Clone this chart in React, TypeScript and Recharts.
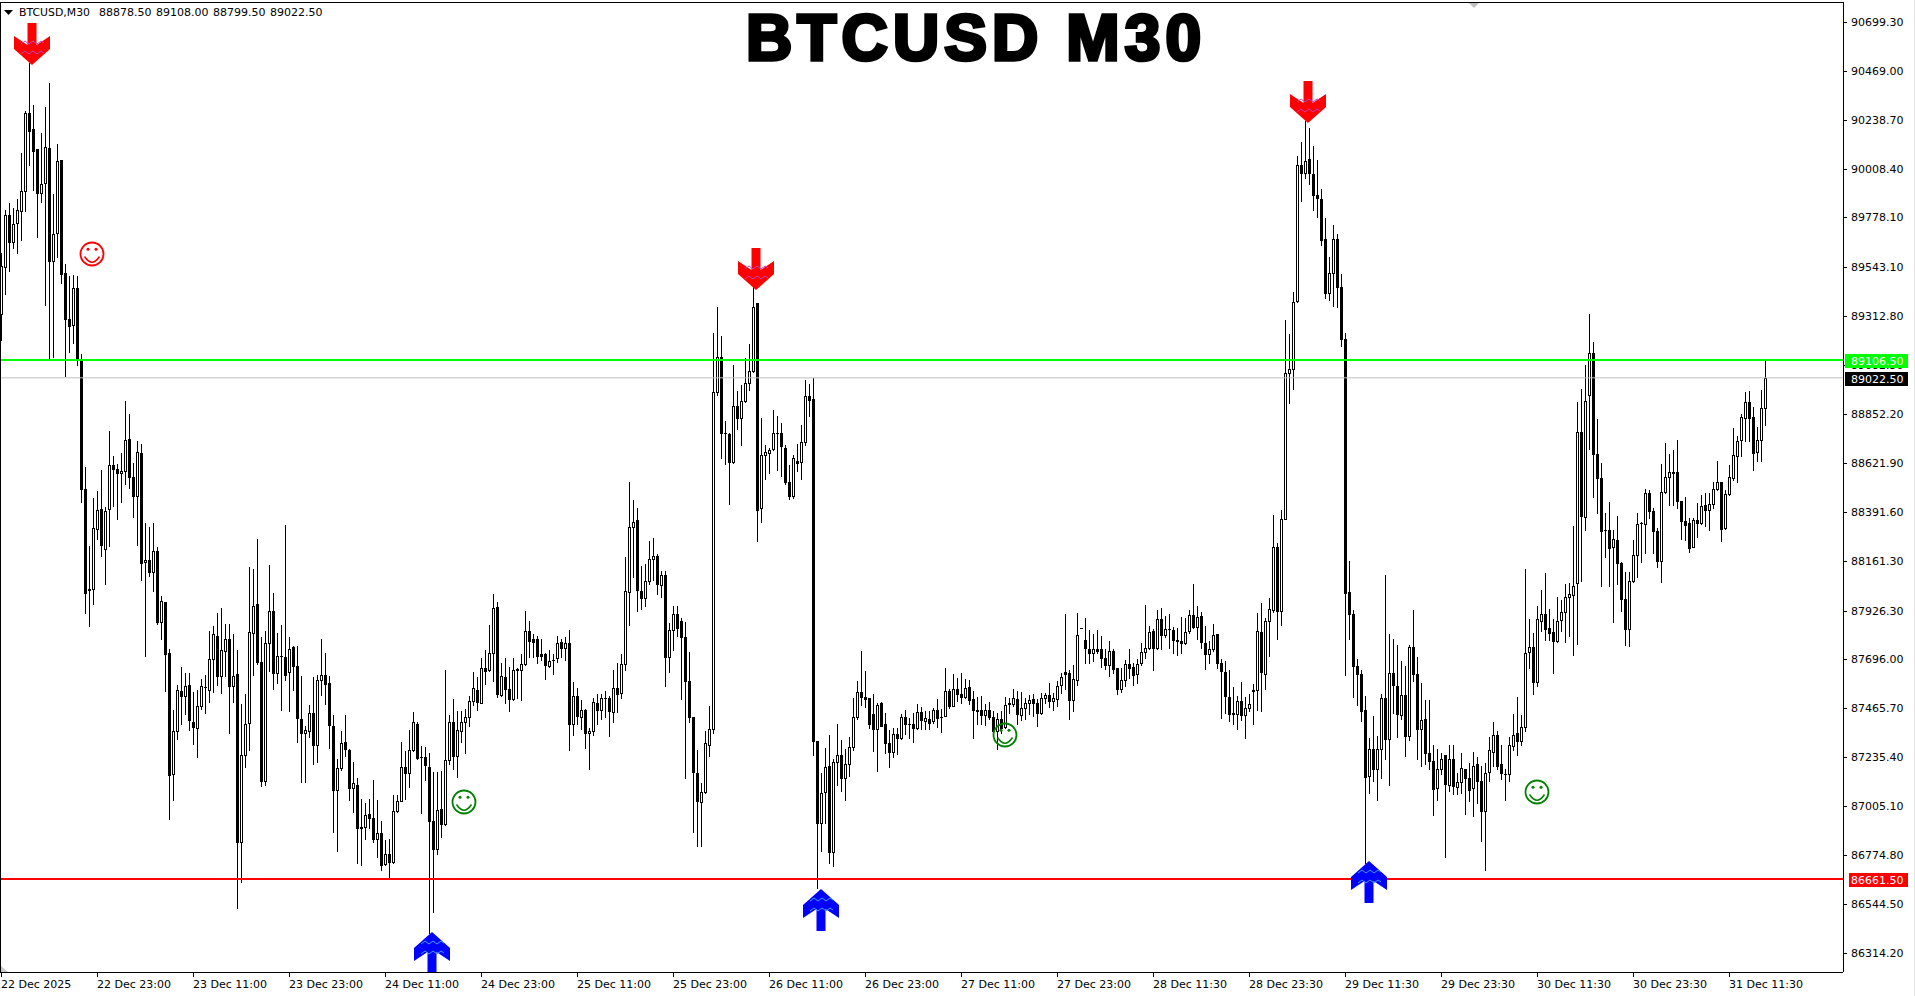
import React from 'react';
import { ComposedChart, Bar, XAxis, YAxis, ReferenceLine, Scatter, Customized } from 'recharts';

const opens = [
89321,89544,89792,89662,89753,89808,89902,90271,90193,90099,
89894,89941,90106,89572,89706,90051,89518,89301,89271,89447,
89110,88500,88025,88029,88312,88405,88217,88405,88613,88593,
88572,88584,88733,88557,88466,88670,88154,88165,88106,88205,
87873,87968,87725,87155,87359,87545,87524,87574,87402,87372,
87476,87565,87551,87698,87807,87617,87735,87793,87569,87626,
86834,87246,87395,87820,87957,87685,87121,87771,87925,87631,
87712,87708,87635,87753,87667,87417,87348,87359,87443,87295,
87601,87624,87583,87384,87082,87184,87306,87270,87091,87105,
86906,86906,86969,86951,86852,86879,86732,86781,86740,86981,
87028,87187,87160,87270,87393,87237,87237,87189,86937,86802,
86992,86919,87223,87399,87241,87359,87399,87426,87501,87554,
87493,87655,87647,87725,87943,87528,87612,87556,87509,87647,
87647,87675,87830,87790,87790,87721,87721,87667,87691,87705,
87776,87750,87774,87394,87524,87423,87457,87350,87360,87493,
87459,87513,87516,87449,87562,87536,87675,88012,88320,88355,
88018,87985,88064,88167,88183,88048,88092,87707,87834,87909,
87879,87800,87592,87427,87162,87025,87072,87294,87368,88956,
89119,88762,88758,88627,88891,88835,88915,89000,89053,89377,
88409,88659,88669,88686,88762,88762,88692,88534,88464,88633,
88627,88722,88936,88924,87314,86927,87072,87195,86789,87211,
87245,87136,87205,87285,87423,87542,87518,87513,87439,87370,
87489,87390,87304,87259,87344,87327,87424,87391,87393,87374,
87449,87405,87416,87405,87456,87424,87429,87547,87476,87555,
87534,87520,87567,87508,87460,87459,87434,87459,87427,87358,
87416,87379,87493,87484,87511,87434,87468,87492,87511,87492,
87442,87512,87528,87500,87511,87575,87636,87633,87503,87599,
87845,87787,87746,87727,87746,87743,87701,87668,87738,87657,
87558,87599,87676,87661,87625,87679,87732,87749,87831,87748,
87887,87811,87839,87836,87789,87784,87773,87828,87906,87848,
87900,87774,87723,87743,87814,87679,87638,87520,87445,87437,
87500,87434,87468,87551,87551,87826,87628,87876,87931,88227,
87924,88359,89047,89066,89383,90026,89989,90052,89984,89885,
89866,89675,89423,89518,89675,89452,89207,88014,87912,87664,
87625,87456,87146,87272,87181,87272,87512,87322,87633,87573,
87434,87529,87335,87755,87628,87369,87416,87256,87219,87090,
87181,87247,87104,87228,87096,87120,87181,87138,87091,87201,
87123,86981,87165,87259,87341,87201,87157,87157,87288,87347,
87311,87379,87730,87755,87589,87877,87910,87845,87823,87782,
87881,87921,87991,88000,88054,88768,88368,88941,89140,88662,
88552,88305,88307,88225,88260,88148,87982,87838,88065,88189,
88337,88334,88481,88397,88303,88159,88485,88555,88581,88577,
88440,88350,88337,88225,88355,88339,88422,88400,88427,88498,
88534,88314,88476,88550,88656,88730,88833,88911,88837,88671,
88730,88878.5];

const closes = [
89549,89792,89662,89745,89811,89905,90271,90185,90091,89894,
89937,90111,89572,89701,90045,89510,89301,89266,89447,89113,
88499,88008,88027,88316,88402,88235,88396,88613,88593,88572,
88584,88731,88554,88466,88674,88151,88163,88106,88208,87870,
87972,87721,87151,87359,87554,87524,87569,87411,87377,87476,
87569,87567,87700,87814,87617,87739,87793,87569,87619,86834,
87246,87390,87823,87948,87682,87121,87771,87925,87631,87712,
87710,87623,87746,87667,87420,87348,87363,87443,87295,87601,
87623,87578,87386,87082,87184,87304,87273,87091,87112,86901,
86901,86965,86951,86852,86879,86727,86781,86740,86983,87028,
87187,87160,87270,87399,87232,87237,87198,86937,86802,86987,
86919,87220,87399,87241,87363,87402,87426,87501,87560,87497,
87655,87643,87727,87939,87532,87618,87556,87509,87647,87651,
87675,87830,87784,87780,87711,87711,87671,87687,87691,87774,
87750,87774,87394,87524,87429,87457,87348,87360,87497,87459,
87513,87513,87453,87562,87532,87675,88018,88320,88345,88024,
87983,88064,88171,88181,88052,88094,87707,87834,87909,87846,
87800,87592,87423,87166,87031,87072,87300,87368,88956,89119,
88762,88762,88627,88891,88831,88915,89000,89053,89357,88401,
88659,88673,88683,88762,88762,88702,88530,88464,88643,88623,
88722,88936,88920,87314,86927,87066,87189,86789,87211,87245,
87136,87205,87285,87427,87542,87518,87509,87390,87370,87483,
87384,87304,87259,87344,87324,87424,87390,87391,87374,87449,
87410,87421,87398,87456,87421,87424,87547,87476,87555,87531,
87518,87562,87504,87457,87452,87434,87459,87424,87358,87413,
87374,87482,87484,87515,87437,87468,87492,87506,87492,87442,
87512,87528,87500,87512,87570,87614,87625,87504,87602,87809,
87845,87748,87724,87746,87734,87701,87668,87738,87653,87558,
87597,87676,87657,87622,87676,87732,87749,87826,87748,87887,
87811,87840,87839,87787,87782,87773,87826,87906,87848,87897,
87777,87723,87743,87810,87680,87641,87523,87437,87437,87500,
87434,87468,87486,87547,87831,87636,87876,87935,88227,87924,
88358,89047,89066,89380,90026,89989,90044,89989,89884,89868,
89672,89420,89518,89675,89450,89204,88010,87911,87664,87627,
87452,87143,87275,87178,87275,87515,87322,87633,87575,87438,
87529,87335,87755,87627,87369,87412,87253,87217,87087,87181,
87228,87110,87228,87102,87120,87186,87137,87080,87193,87123,
86981,87162,87269,87341,87193,87162,87157,87294,87341,87311,
87379,87727,87755,87589,87887,87910,87841,87820,87784,87877,
87921,87991,88005,88040,88768,88371,88914,89140,88665,88550,
88301,88305,88220,88263,88148,87980,87838,88067,88189,88335,
88337,88481,88397,88301,88159,88485,88555,88581,88573,88442,
88346,88328,88220,88353,88339,88420,88400,88427,88500,88534,
88310,88476,88555,88660,88727,88837,88911,88833,88667,88730,
88882,89022.5];

const highs = [
89609,89813,89844,89824,89863,90083,90279,90507,90306,90099,
90177,90299,90412,89887,90122,90051,89557,89502,89505,89502,
89133,88604,88231,88455,88491,88590,88416,88774,88656,88617,
88670,88912,88853,88620,88724,88711,88339,88321,88339,88226,
87993,87968,87743,87456,87574,87658,87631,87631,87542,87551,
87605,87623,87829,87852,87913,87936,87861,87864,87814,87739,
87488,87533,88133,88120,88264,87802,87829,88142,88008,87820,
87859,88330,87802,87757,87757,87619,87384,87483,87614,87623,
87793,87725,87619,87434,87228,87359,87434,87273,87211,87139,
87040,87019,87037,87126,87032,86933,86843,86852,87058,87058,
87309,87264,87363,87449,87399,87288,87282,87255,87166,87166,
87169,87644,87434,87511,87452,87452,87461,87524,87635,87614,
87705,87741,87856,88004,87965,87677,87701,87661,87701,87655,
87721,87925,87877,87814,87804,87790,87727,87741,87721,87804,
87790,87800,87834,87588,87562,87503,87463,87374,87512,87532,
87532,87548,87522,87647,87681,87721,88177,88534,88445,88409,
88137,88147,88256,88266,88193,88111,88113,87866,87949,87949,
87893,87873,87731,87427,87271,87116,87358,87477,89232,89357,
89218,88817,88762,89083,88960,88990,89115,89182,89452,89377,
88831,88708,88692,88871,88845,88811,88706,88613,88659,88712,
88801,89014,88994,89024,87314,87162,87281,87340,87225,87394,
87318,87275,87330,87512,87592,87737,87641,87516,87532,87493,
87497,87443,87364,87374,87374,87440,87456,87421,87445,87484,
87471,87453,87453,87468,87508,87464,87657,87555,87625,87610,
87633,87602,87597,87547,87519,87526,87484,87495,87453,87445,
87453,87520,87515,87555,87547,87542,87515,87528,87534,87511,
87539,87539,87586,87539,87594,87630,87908,87646,87672,87916,
87846,87889,87834,87814,87834,87806,87743,87784,87746,87657,
87657,87693,87746,87680,87696,87771,87950,87853,87837,87931,
87939,87900,87908,87848,87845,87897,87892,87931,88049,87947,
87919,87853,87782,87865,87817,87696,87688,87646,87567,87526,
87591,87520,87531,87578,87916,87963,87892,87983,88374,88245,
88402,89295,89227,89428,90067,90135,90232,90201,90117,90047,
89913,89777,89593,89741,89698,89510,89232,88159,87927,87696,
87644,87526,87324,87429,87335,87531,88096,87814,87793,87766,
87688,87664,87766,87927,87708,87586,87507,87503,87295,87272,
87256,87248,87294,87294,87159,87256,87182,87209,87261,87237,
87193,87206,87332,87402,87358,87295,87178,87332,87441,87520,
87432,88120,87887,87821,87947,88022,88101,87932,87886,87991,
87977,88049,88054,88323,88911,88968,89082,89323,89190,88829,
88622,88388,88436,88305,88370,88155,88106,88106,88260,88388,
88343,88500,88496,88409,88316,88617,88716,88662,88683,88730,
88440,88463,88364,88364,88433,88472,88478,88481,88530,88629,
88534,88496,88613,88784,88747,88851,88954,88959,88887,88792,
88966,89108];

const lows = [
89200,89416,89525,89635,89609,89671,89808,90025,89907,89686,
89850,89365,89113,89120,89593,89470,89031,89144,89185,89083,
88437,87914,87855,87959,88264,88183,88049,88231,88420,88357,
88437,88522,88504,88366,88235,88070,87712,88088,88017,87864,
87793,87547,86942,87032,87322,87390,87440,87363,87297,87234,
87461,87443,87494,87542,87574,87538,87617,87348,87497,86525,
86646,87189,87270,87623,87676,87100,87103,87640,87556,87583,
87458,87599,87452,87551,87309,87117,87117,87331,87202,87211,
87528,87488,87277,86883,86793,87175,87241,87032,86978,86736,
86727,86849,86901,86834,86763,86704,86727,86668,86736,86978,
87028,87040,87094,87264,87228,86972,87130,86405,86507,86777,
86861,86915,87205,87180,87144,87309,87255,87384,87479,87456,
87489,87582,87641,87592,87518,87522,87493,87453,87503,87513,
87503,87671,87707,87707,87681,87691,87602,87661,87628,87685,
87707,87691,87271,87338,87390,87370,87279,87179,87340,87390,
87413,87423,87334,87403,87449,87513,87647,87860,88082,87923,
87933,87949,88052,88068,88004,87988,87572,87636,87741,87806,
87509,87136,87403,86882,86815,86815,87066,87239,87348,88940,
88643,88617,88429,88623,88782,88708,88911,88964,89049,88256,
88345,88548,88573,88683,88587,88558,88524,88451,88458,88583,
88544,88706,88845,87245,86617,86793,86927,86739,86725,87106,
87076,87036,87146,87271,87413,87483,87473,87374,87265,87169,
87384,87255,87189,87235,87251,87322,87343,87327,87307,87369,
87369,87369,87369,87398,87377,87354,87429,87468,87476,87500,
87492,87515,87484,87327,87394,87394,87385,87413,87351,87275,
87351,87374,87445,87476,87390,87410,87416,87440,87429,87382,
87437,87492,87473,87460,87476,87539,87555,87416,87453,87575,
87845,87680,87677,87688,87727,87661,87649,87617,87633,87531,
87542,87570,87609,87575,87583,87672,87701,87743,87646,87743,
87743,87803,87751,87724,87715,87724,87767,87821,87845,87790,
87751,87652,87680,87735,87657,87420,87445,87405,87390,87369,
87410,87327,87453,87390,87460,87453,87555,87712,87920,87790,
87856,88359,88905,88968,89380,89855,89962,89938,89813,89780,
89646,89397,89389,89361,89356,89172,87622,87793,87518,87481,
87405,86738,87065,87123,87033,87135,87225,87104,87445,87332,
87413,87240,87316,87594,87225,87193,87201,87178,86963,87033,
87154,86765,87076,87060,87060,87068,86966,87029,86958,87021,
86840,86704,87123,87193,87178,87131,87033,87123,87269,87248,
87292,87358,87657,87531,87570,87832,87787,87787,87634,87778,
87832,87778,87805,87719,87769,88067,88305,88685,88463,88386,
88040,88180,88040,87872,88049,87926,87764,87757,88063,88085,
88157,88198,88364,88197,88133,88063,88478,88422,88422,88409,
88261,88260,88202,88224,88271,88334,88325,88305,88409,88496,
88256,88310,88472,88539,88530,88653,88725,88725,88586,88629,
88629,88799.5];

const xTickIndexes = [0,24,48,72,96,120,144,168,192,216,240,264,288,312,336,360,384,408,432];
const xTickLabels = ['22 Dec 2025','22 Dec 23:00','23 Dec 11:00','23 Dec 23:00','24 Dec 11:00','24 Dec 23:00','25 Dec 11:00','25 Dec 23:00','26 Dec 11:00','26 Dec 23:00','27 Dec 11:00','27 Dec 23:00','28 Dec 11:30','28 Dec 23:30','29 Dec 11:30','29 Dec 23:30','30 Dec 11:30','30 Dec 23:30','31 Dec 11:30'];
const yTickValues = [90699.3,90469,90238.7,90008.4,89778.1,89543.1,89312.8,89082.5,88852.2,88621.9,88391.6,88161.3,87926.3,87696,87465.7,87235.4,87005.1,86774.8,86544.5,86314.2];
const resistance = 89106.5;
const support = 86661.5;
const lastClose = 89022.5;

const sellArrows = [{ i: 7.6, price: 90496 }, { i: 188.6, price: 89436 }, { i: 326.6, price: 90223 }];
const buyArrows = [{ i: 107.6, price: 86412 }, { i: 204.9, price: 86614 }, { i: 341.9, price: 86744 }];
const redSmileys = [{ i: 22.6, price: 89606 }];
const greenSmileys = [{ i: 115.6, price: 87024 }, { i: 250.9, price: 87340 }, { i: 383.9, price: 87071 }];

const FONT = '"DejaVu Sans", sans-serif';
const candles = opens.map((open, i) => ({ i, open, high: highs[i], low: lows[i], close: closes[i] }));
if (new Set([opens.length, closes.length, highs.length, lows.length]).size !== 1) {
  throw new Error('length mismatch ' + [opens.length, closes.length, highs.length, lows.length].join(','));
}

function Candle(props: any) {
  const { x, width, y, height, payload } = props;
  const h = Math.abs(height);
  const range = payload.high - payload.low || 1;
  const yOf = (v: number) => Math.round(y + ((payload.high - v) / range) * h);
  const cx = Math.floor(x + width / 2);
  const top = yOf(Math.max(payload.open, payload.close));
  const bot = yOf(Math.min(payload.open, payload.close));
  const wt = yOf(payload.high);
  const wb = yOf(payload.low);
  const up = payload.close >= payload.open;
  const bh = Math.max(bot - top + 1, 1);
  return (
    <g shapeRendering="crispEdges">
      <rect x={cx} y={wt} width={1} height={Math.max(wb - wt + 1, 1)} fill="#000" />
      <rect x={cx - 1} y={top} width={3} height={bh} fill="#000" />
      {up && bh > 2 ? <rect x={cx} y={top + 1} width={1} height={bh - 2} fill="#fff" /> : null}
    </g>
  );
}

function XTick(props: any) {
  const { x, payload } = props;
  const label = xTickLabels[xTickIndexes.indexOf(payload.value)];
  const px = Math.floor(x);
  return (
    <g>
      <rect x={px} y={973} width={1} height={4} fill="#000" shapeRendering="crispEdges" />
      <text x={px} y={988} fontFamily={FONT} fontSize={11} fill="#000">{label}</text>
    </g>
  );
}

function YTick(props: any) {
  const { y, payload } = props;
  const v = payload.value;
  const text = v.toFixed(2);
  if (v === resistance || v === lastClose || v === support) {
    const bg = v === resistance ? '#00ff00' : v === support ? '#ff0000' : '#000000';
    const rx = v === support ? 1849 : 1845;
    return (
      <g>
        <rect x={rx} y={Math.round(y) - 6} width={1908 - rx} height={14} fill={bg} shapeRendering="crispEdges" />
        <text x={1851} y={Math.round(y) + 5} fontFamily={FONT} fontSize={11} fill="#fff">{text}</text>
      </g>
    );
  }
  return (
    <g>
      <rect x={1844} y={Math.round(y)} width={3} height={1} fill="#000" shapeRendering="crispEdges" />
      <text x={1851} y={Math.round(y) + 4} fontFamily={FONT} fontSize={11} fill="#000">{text}</text>
    </g>
  );
}

function SellArrow(props: any) {
  const { cx, cy } = props;
  const x = Math.round(cx), y = Math.round(cy);
  return (
    <g transform={`translate(${x},${y})`}>
      <polygon points="-4.5,-42 4.5,-42 4.5,-20 18,-29 18,-16 0,0 -18,-16 -18,-29 -4.5,-20" fill="#ff0000" />
      <polyline points="-11,-21 -7,-24 -3,-21 1,-24 5,-21 9,-24 12,-22" fill="none" stroke="#c040c0" strokeWidth={1} />
      <polyline points="-11,-11 -7,-14 -3,-11 1,-14 5,-11 9,-14 12,-12" fill="none" stroke="#c040c0" strokeWidth={1} />
    </g>
  );
}

function BuyArrow(props: any) {
  const { cx, cy } = props;
  const x = Math.round(cx), y = Math.round(cy);
  return (
    <g transform={`translate(${x},${y})`}>
      <polygon points="-4.5,42 4.5,42 4.5,20 18,29 18,16 0,0 -18,16 -18,29 -4.5,20" fill="#0000ff" />
      <polyline points="-11,12 -7,9 -3,12 1,9 5,12 9,9 12,11" fill="none" stroke="#3aa0ff" strokeWidth={1} />
      <polyline points="-11,22 -7,19 -3,22 1,19 5,22 9,19 12,21" fill="none" stroke="#3aa0ff" strokeWidth={1} />
    </g>
  );
}

function Smiley(props: any) {
  const { cx, cy, color } = props;
  return (
    <g transform={`translate(${Math.round(cx)},${Math.round(cy)})`}>
      <circle r={11.5} fill="none" stroke={color} strokeWidth={1.8} />
      <circle cx={-4} cy={-4.7} r={1.5} fill={color} />
      <circle cx={4} cy={-4.7} r={1.5} fill={color} />
      <path d="M-7.5,2.5 Q0,14 7.5,2.5" fill="none" stroke={color} strokeWidth={1.5} />
    </g>
  );
}
const RedSmiley = (p: any) => <Smiley {...p} color="#ff0000" />;
const GreenSmiley = (p: any) => <Smiley {...p} color="#008000" />;

function Decor() {
  return (
    <g>
      <g shapeRendering="crispEdges">
        <rect x={0} y={2} width={1} height={971} fill="#000" />
        <rect x={0} y={2} width={1844} height={1} fill="#000" />
        <rect x={1914} y={0} width={1} height={996} fill="#e6e6e6" />
      </g>
      <polygon points="1,966 8,972 1,972" fill="#c8c8c8" />
      <polygon points="1469,3 1479,3 1474,8" fill="#c0c0c0" />
      <polygon points="4,10 13,10 8.5,15" fill="#000" />
      <text x={19} y={16} fontFamily={FONT} fontSize={11} fill="#000" textLength={71} lengthAdjust="spacingAndGlyphs">BTCUSD,M30</text>
      <text x={99} y={16} fontFamily={FONT} fontSize={11} fill="#000">88878.50</text>
      <text x={156} y={16} fontFamily={FONT} fontSize={11} fill="#000">89108.00</text>
      <text x={213} y={16} fontFamily={FONT} fontSize={11} fill="#000">88799.50</text>
      <text x={270} y={16} fontFamily={FONT} fontSize={11} fill="#000">89022.50</text>
      <text x={746} y={60} fontFamily='"Liberation Sans", Arial, sans-serif' fontWeight={700} fontSize={64} fill="#000" stroke="#000" strokeWidth={3.6} strokeLinejoin="miter" textLength={455} lengthAdjust="spacing">BTCUSD M30</text>
    </g>
  );
}

export default function App() {
  return (
    <div style={{ position: 'absolute', left: 0, top: 0, width: 1915, height: 996, background: '#fff' }}>
      <ComposedChart width={1915} height={996} data={candles} margin={{ top: 3, right: 0, bottom: 0, left: 1 }}>
        <XAxis
          type="number"
          dataKey="i"
          domain={[-0.125, 460.375]}
          allowDataOverflow
          ticks={xTickIndexes}
          interval={0}
          height={24}
          tickLine={false}
          tick={<XTick />}
          axisLine={{ stroke: '#000', shapeRendering: 'crispEdges' }}
        />
        <YAxis
          orientation="right"
          type="number"
          domain={[86223.4, 90788.4]}
          allowDataOverflow
          ticks={[...yTickValues, lastClose, resistance, support]}
          interval={0}
          width={72}
          tickLine={false}
          tick={<YTick />}
          axisLine={{ stroke: '#000', shapeRendering: 'crispEdges' }}
        />
        <Customized component={Decor} />
        <ReferenceLine y={lastClose} stroke="#c0c0c0" strokeWidth={1} />
        <Bar dataKey={(d: any) => [d.low, d.high]} barSize={3} shape={<Candle />} isAnimationActive={false} />
        <ReferenceLine y={resistance} stroke="#00ff00" strokeWidth={2} />
        <ReferenceLine y={support} stroke="#ff0000" strokeWidth={2} />
        <Scatter data={sellArrows} dataKey="price" shape={<SellArrow />} isAnimationActive={false} />
        <Scatter data={buyArrows} dataKey="price" shape={<BuyArrow />} isAnimationActive={false} />
        <Scatter data={redSmileys} dataKey="price" shape={<RedSmiley />} isAnimationActive={false} />
        <Scatter data={greenSmileys} dataKey="price" shape={<GreenSmiley />} isAnimationActive={false} />
      </ComposedChart>
    </div>
  );
}
